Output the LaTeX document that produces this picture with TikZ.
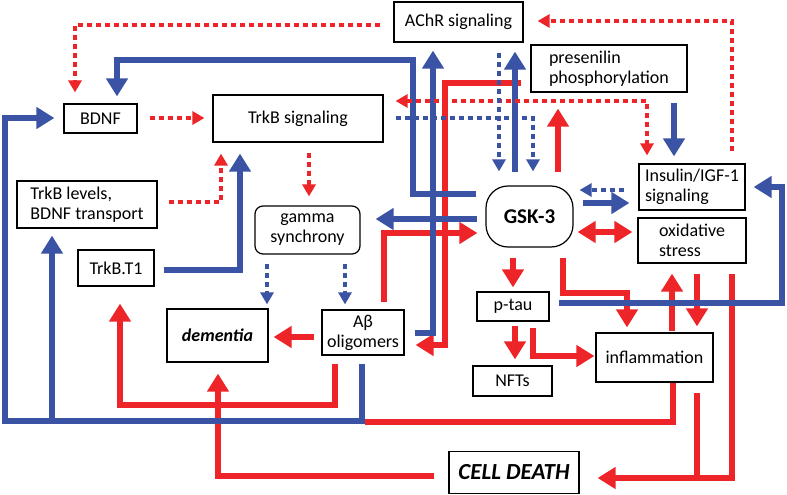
\documentclass[tikz,border=0pt]{standalone}
\usepackage{fontspec}
\setmainfont{Carlito}
\usetikzlibrary{arrows.meta}
\definecolor{ablue}{RGB}{58,83,164}
\definecolor{ared}{RGB}{237,36,40}
\begin{document}
\begin{tikzpicture}[x=1pt,y=-1pt,
  box/.style={draw,line width=1.2pt,inner sep=0pt,align=center,font=\fontsize{18}{20}\selectfont},
  lbox/.style={box,align=left},
  rthick/.style={draw=ared,line width=6.5pt,-{Triangle[width=21pt,length=18pt]}},
  bthick/.style={draw=ablue,line width=6.5pt,-{Triangle[width=21pt,length=18pt]}},
  rdot/.style={draw=ared,line width=3.5pt,dash pattern=on 5pt off 4pt,-{Triangle[width=13pt,length=12pt]}},
  bdot/.style={draw=ablue,line width=3.5pt,dash pattern=on 5pt off 4pt,-{Triangle[width=13pt,length=12pt]}}]
\useasboundingbox (0,0) rectangle (787,495);
\node[box,minimum width=129pt,minimum height=40pt] (achr) at (458.5,22) {AChR signaling};
\node[lbox,minimum width=156pt,minimum height=47pt] (pres) at (609,68.5) {presenilin\\phosphorylation};
\node[box,minimum width=73pt,minimum height=29pt] (bdnf) at (100.5,118.5) {BDNF};
\node[box,minimum width=170pt,minimum height=47pt] (trkb) at (298,118.5) {TrkB signaling};
\node[lbox,minimum width=140pt,minimum height=47pt] (levels) at (87,204.5) {TrkB levels,\\BDNF transport};
\node[box,rounded corners=8pt,minimum width=105pt,minimum height=48pt] (gamma) at (307.5,230) {gamma\\synchrony};
\node[box,rounded corners=22pt,minimum width=87pt,minimum height=61pt,font=\fontsize{21}{24}\selectfont\bfseries] (gsk) at (529.5,216.5) {GSK-3};
\node[lbox,minimum width=106pt,minimum height=46pt] (ins) at (692,187) {Insulin/IGF-1\\signaling};
\node[lbox,minimum width=108pt,minimum height=45pt] (ox) at (692,240.5) {oxidative\\stress};
\node[box,minimum width=76pt,minimum height=36pt] (t1) at (116,268) {TrkB.T1};
\node[box,minimum width=101pt,minimum height=53pt,font=\fontsize{18}{20}\selectfont\bfseries\itshape] (dem) at (217.5,335.5) {dementia};
\node[box,minimum width=82pt,minimum height=45pt] (abeta) at (363,332.5) {Aβ\\oligomers};
\node[box,minimum width=72pt,minimum height=29pt] (ptau) at (513,306.5) {p-tau};
\node[box,minimum width=79pt,minimum height=30pt] (nft) at (512.5,381) {NFTs};
\node[box,minimum width=117pt,minimum height=49pt] (infl) at (654.5,357.5) {inflammation};
\node[box,minimum width=130pt,minimum height=42pt,font=\fontsize{23}{26}\selectfont\bfseries\itshape] (death) at (514,472.5) {CELL DEATH};

\draw[rthick,shorten <=10pt,shorten >=4pt] (gsk.south -| 513,0) -- (ptau.north -| 513,0);
\draw[rthick,shorten <=4pt,shorten >=6pt] (ptau.south -| 515,0) -- (nft.north -| 515,0);
\draw[rthick,shorten <=6pt,shorten >=1pt] (ptau.south -| 533,0) |- (infl.west |- 0,356);
\draw[rthick,shorten <=10pt,shorten >=5pt] (gsk.south -| 563,0) |- (627,293) -- (infl.north -| 627,0);
\draw[rthick,shorten <=1pt,shorten >=10pt] (infl.north -| 672,0) -- (ox.south -| 672,0);
\draw[rthick,shorten <=10pt,shorten >=6pt] (ox.south -| 697,0) -- (infl.north -| 697,0);
\draw[rthick,shorten <=10pt,shorten >=18pt] (ox.south -| 732,0) |- (death.east |- 0,478);
\draw[rthick,-,shorten <=10pt] (infl.south -| 697,0) -- (697,481.25);
\draw[rthick,-] (infl.south -| 673,0) |- (365,422);
\draw[rthick,shorten <=14pt,shorten >=11pt] (death.west |- 0,476) -| (dem.south -| 218,0);
\draw[rthick,shorten <=7pt,shorten >=5pt] (abeta.west |- 0,337) -- (dem.east |- 0,337);
\draw[rthick,shorten <=8pt,shorten >=17pt] (abeta.south -| 335,0) |- (120,405) -- (t1.south -| 120,0);
\draw[rthick,shorten <=9pt,shorten >=11pt] (pres.west |- 0,83) -| (445,345) -- (abeta.east |- 0,345);
\draw[rthick,shorten <=7pt,shorten >=8pt] (abeta.north -| 384,0) |- (gsk.west |- 0,233);
\draw[rthick,shorten <=13pt,shorten >=16pt] (gsk.north -| 558,0) -- (pres.south -| 558,0);
\draw[rthick,{Triangle[width=21pt,length=18pt]}-{Triangle[width=21pt,length=18pt]},shorten <=4pt,shorten >=5pt] (gsk.east |- 0,232) -- (ox.west |- 0,232);

\draw[bthick,shorten <=10pt,shorten >=8pt] (abeta.east |- 0,333) -| (achr.south -| 433,0);
\draw[bthick,shorten <=9pt,shorten >=7pt] (gsk.west |- 0,194) -| (413,60) -| (bdnf.north -| 117,0);
\draw[bthick,shorten <=8pt,shorten >=15pt] (gsk.west |- 0,219) -- (gamma.east |- 0,219);
\draw[bthick,shorten <=13pt,shorten >=9pt] (gsk.north -| 515,0) -- (achr.south -| 515,0);
\draw[bthick,shorten <=10pt,shorten >=7pt] (pres.south -| 674,0) -- (ins.north -| 674,0);
\draw[bthick,shorten <=9pt,shorten >=9pt] (gsk.east |- 0,203) -- (ins.west |- 0,203);
\draw[bthick,shorten <=9pt,shorten >=8pt] (ptau.east |- 0,303) -| (782,187) -- (ins.east |- 0,187);
\draw[bthick,shorten <=9pt,shorten >=11pt] (t1.east |- 0,270) -| (trkb.south -| 240,0);
\draw[bthick,shorten <=8pt,shorten >=9pt] (abeta.south -| 362,0) |- (5,421) |- (bdnf.west |- 0,118);
\draw[bthick,shorten >=7pt] (52,421) -- (levels.south -| 52,0);

\draw[rdot,shorten <=13pt,shorten >=11pt] (achr.west |- 0,25) -| (bdnf.north -| 75,0);
\draw[rdot,shorten <=12pt,shorten >=8pt] (bdnf.east |- 0,118) -- (trkb.west |- 0,118);
\draw[rdot,shorten <=11pt,shorten >=11pt] (levels.east |- 0,202) -| (trkb.south -| 221,0);
\draw[rdot,shorten <=10pt,shorten >=9pt] (trkb.south -| 309,0) -- (gamma.north -| 309,0);
\draw[rdot,shorten <=12pt,shorten >=14pt] (ins.north -| 732,0) |- (achr.east |- 0,21);
\draw[rdot,{Triangle[width=13pt,length=12pt]}-{Triangle[width=13pt,length=12pt]},shorten <=12pt,shorten >=8pt] (trkb.east |- 0,101) -| (ins.north -| 647,0);
\draw[bdot,shorten <=10pt,shorten >=14pt] (achr.south -| 499,0) -- (gsk.north -| 499,0);
\draw[bdot,shorten <=12pt,shorten >=14pt] (trkb.east |- 0,118) -| (gsk.north -| 533,0);
\draw[bdot,shorten <=14pt,shorten >=6pt] (ins.west |- 0,190) -- (gsk.east |- 0,190);
\draw[bdot,shorten <=9pt,shorten >=4pt] (gamma.south -| 267,0) -- (dem.north -| 267,0);
\draw[bdot,shorten <=9pt,shorten >=5pt] (gamma.south -| 345,0) -- (abeta.north -| 345,0);
\end{tikzpicture}
\end{document}
